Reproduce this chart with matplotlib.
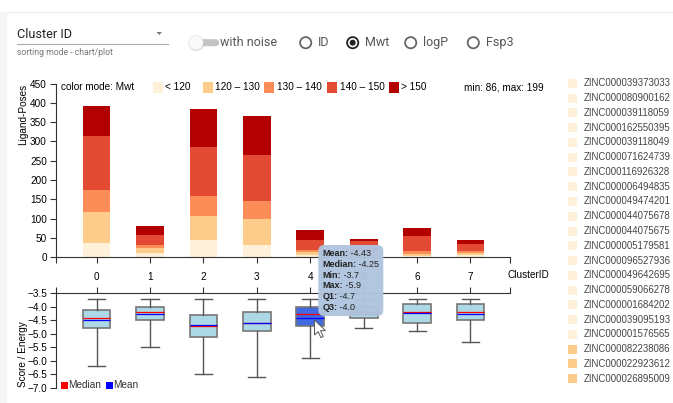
import numpy as np
import matplotlib.pyplot as plt
from matplotlib.patches import Rectangle, FancyBboxPatch, Circle, Polygon
from matplotlib.ticker import FuncFormatter

plt.rcParams['font.family'] = ['Liberation Sans', 'DejaVu Sans']

# ---- data ----
clusters = [0, 1, 2, 3, 4, 5, 6, 7]
mwt_bins = ['< 120', '120 \u2013 130', '130 \u2013 140', '140 \u2013 150', '> 150']
bin_colors = ['#fef0d9', '#fdcc8a', '#fc8d59', '#e34a33', '#b30000']

# ligand poses per cluster, one list per Mwt bin
n_lt120 = [36, 11, 45, 33, 6, 4, 4, 6]
n_120_130 = [80, 13, 61, 65, 8, 6, 5, 6]
n_130_140 = [59, 8, 52, 48, 6, 6, 8, 5]
n_140_150 = [140, 26, 128, 119, 26, 25, 38, 18]
n_gt150 = [78, 22, 99, 102, 24, 7, 21, 10]

# score / energy box statistics per cluster
score_hi = [-3.7, -3.7, -3.7, -3.7, -3.7, -3.7, -3.7, -3.7]
score_q3 = [-4.1, -4.0, -4.3, -4.2, -4.0, -4.0, -3.9, -3.9]
score_med = [-4.4, -4.2, -4.7, -4.6, -4.25, -4.2, -4.2, -4.2]
score_mean = [-4.47, -4.27, -4.68, -4.59, -4.43, -4.25, -4.23, -4.25]
score_q1 = [-4.8, -4.5, -5.1, -4.9, -4.7, -4.4, -4.6, -4.5]
score_lo = [-6.2, -5.5, -6.5, -6.6, -5.9, -4.8, -4.9, -5.3]
selected = 4

mwt_min, mwt_max = 86, 199

zinc_ids = ['ZINC000039373033', 'ZINC000080900162', 'ZINC000039118059',
            'ZINC000162550395', 'ZINC000039118049', 'ZINC000071624739',
            'ZINC000116926328', 'ZINC000006494835', 'ZINC000049474201',
            'ZINC000044075678', 'ZINC000044075675', 'ZINC000005179581',
            'ZINC000096527936', 'ZINC000049642695', 'ZINC000059066278',
            'ZINC000001684202', 'ZINC000039095193', 'ZINC000001576565',
            'ZINC000082238086', 'ZINC000022923612', 'ZINC000026895009']
zinc_bin = [0] * 18 + [1] * 3

W, H = 673, 403
fig = plt.figure(figsize=(W / 100, H / 100), dpi=100)
fig.patch.set_facecolor('white')

def fx(x):
    return x / W

def fy(y):
    return 1 - y / H

axis_col = '#333333'
fs = 7.2

# ---- stacked bar chart ----
ax1 = fig.add_axes([fx(56), fy(257.3), fx(510 - 56), (257.3 - 83.5) / H])
bottom = np.zeros(len(clusters))
for vals, col in zip([n_lt120, n_120_130, n_130_140, n_140_150, n_gt150], bin_colors):
    ax1.bar(clusters, vals, width=0.52, bottom=bottom, color=col, linewidth=0)
    bottom += np.array(vals)

ax1.set_xlim(-0.76, 7.74)
ax1.set_ylim(0, 450)
ax1.set_yticks(np.arange(0, 451, 50))
ax1.set_xticks(clusters)
ax1.set_xticks([-0.76, 7.74], minor=True)
ax1.tick_params(axis='x', which='both', direction='out', length=4.5, width=0.8,
                color=axis_col, labelsize=fs, pad=6)
ax1.tick_params(axis='y', direction='out', length=4.5, width=0.8, color=axis_col,
                labelsize=fs, pad=2)
for s in ['top', 'right']:
    ax1.spines[s].set_visible(False)
for s in ['left', 'bottom']:
    ax1.spines[s].set_color(axis_col)
    ax1.spines[s].set_linewidth(0.8)
ax1.patch.set_alpha(0)

# ---- box plot ----
ax2 = fig.add_axes([fx(56), fy(388), fx(510 - 56), (388 - 293.3) / H])
stats = []
for i in range(len(clusters)):
    stats.append(dict(med=score_med[i], q1=score_q1[i], q3=score_q3[i],
                      whislo=score_lo[i], whishi=score_hi[i],
                      mean=score_mean[i], fliers=[]))
bp = ax2.bxp(stats, positions=clusters, widths=0.52, capwidths=0.32,
             patch_artist=True, showmeans=True, meanline=True, showfliers=False,
             boxprops=dict(edgecolor='#777777', linewidth=1.2),
             whiskerprops=dict(color='#555555', linewidth=1),
             capprops=dict(color='#555555', linewidth=1),
             medianprops=dict(color='red', linewidth=0.9),
             meanprops=dict(color='blue', linewidth=0.9, linestyle='-'))
for i, box in enumerate(bp['boxes']):
    box.set_facecolor('#4169e1' if i == selected else '#add8e6')

ax2.set_xlim(-0.76, 7.74)
ax2.set_ylim(-7.0, -3.5)
ax2.set_yticks(np.arange(-7.0, -3.49, 0.5))
ax2.yaxis.set_major_formatter(FuncFormatter(lambda v, p: f'{v:.1f}'.replace('-', '\u2212')))
ax2.xaxis.tick_top()
ax2.set_xticks(clusters)
ax2.set_xticks([-0.76, 7.74], minor=True)
ax2.tick_params(axis='x', which='both', direction='out', length=4.5, width=0.8,
                color=axis_col, labeltop=False, labelbottom=False)
ax2.tick_params(axis='y', direction='out', length=4.5, width=0.8, color=axis_col,
                labelsize=fs, pad=2)
for s in ['bottom', 'right']:
    ax2.spines[s].set_visible(False)
for s in ['left', 'top']:
    ax2.spines[s].set_color(axis_col)
    ax2.spines[s].set_linewidth(0.8)
ax2.patch.set_alpha(0)

# ---- overlay in pixel coordinates ----
ov = fig.add_axes([0, 0, 1, 1])
ov.set_xlim(0, W)
ov.set_ylim(H, 0)
ov.axis('off')

# card edges
ov.add_patch(Rectangle((0, 12), 7, H - 12, color='#f5f5f5', lw=0))
ov.plot([7, W], [12, 12], color='#ececec', lw=0.8)

# axis labels
ov.text(23, 84, 'Ligand-Poses', rotation=90, ha='center', va='top', fontsize=fs)
ov.text(23, 387, 'Score / Energy', rotation=90, ha='center', va='bottom', fontsize=fs)
ov.text(508, 275, 'ClusterID', ha='left', va='center', fontsize=fs)

# colour legend of the bar chart
ov.text(60.7, 87.5, 'color mode: Mwt', ha='left', va='center', fontsize=fs)
leg_x = [152.9, 202.5, 264.3, 327.0, 388.6]
for x, lab, col in zip(leg_x, mwt_bins, bin_colors):
    ov.add_patch(Rectangle((x, 82), 10, 11, color=col, lw=0))
    ov.text(x + 12.5, 87.5, lab, ha='left', va='center', fontsize=fs)
ov.text(464.3, 87.5, f'min: {mwt_min}, max: {mwt_max}', ha='left', va='center', fontsize=fs)

# median / mean legend
ov.add_patch(Rectangle((60.5, 381.5), 7, 7, color='red', lw=0))
ov.text(68.6, 385, 'Median', ha='left', va='center', fontsize=fs, color='#333333')
ov.add_patch(Rectangle((105.5, 381.5), 7, 7, color='blue', lw=0))
ov.text(113.6, 385, 'Mean', ha='left', va='center', fontsize=fs, color='#333333')

# right-hand list of ligands
for i, (zid, b) in enumerate(zip(zinc_ids, zinc_bin)):
    y = 83.3 + 14.77 * i
    ov.add_patch(Rectangle((568.3, y - 4.5), 9, 9, color=bin_colors[b], lw=0))
    ov.text(583.3, y, zid, ha='left', va='center', fontsize=6.95, color='#444444')

# top controls
ui = ['Roboto', 'DejaVu Sans']
ov.text(17, 35, 'Cluster ID', ha='left', va='center', fontsize=9.2, family=ui, color='#222222')
ov.plot([17, 168], [44, 44], color='#aaaaaa', lw=0.8)
ov.add_patch(Polygon([(156.5, 32), (162, 32), (159.25, 35)], closed=True,
                     color='#777777', lw=0))
ov.text(17, 52.5, 'sorting mode - chart/plot', ha='left', va='center', fontsize=6.2,
        family=ui, color='#777777')

ov.add_patch(FancyBboxPatch((192, 39.2), 27, 7, boxstyle='round,pad=0,rounding_size=3.5',
                            color='#c4c4c4', lw=0))
ov.add_patch(Circle((196.5, 43.6), 7.6, color='#000000', alpha=0.12, lw=0))
ov.add_patch(Circle((196, 42.7), 7.2, facecolor='#fafafa', edgecolor='#e0e0e0', lw=0.5))
ov.text(220.5, 42.7, 'with noise', ha='left', va='center', fontsize=9.0, family=ui,
        color='#555555')

radio_x = [305.7, 352.7, 410.7, 473.3]
radio_lab = ['ID', 'Mwt', 'logP', 'Fsp3']
radio_sel = 'Mwt'
for x, lab in zip(radio_x, radio_lab):
    ring = '#222222' if lab == radio_sel else '#666666'
    ov.add_patch(Circle((x, 42.7), 5.6, facecolor='none', edgecolor=ring, lw=1.3))
    if lab == radio_sel:
        ov.add_patch(Circle((x, 42.7), 3.0, color='#222222', lw=0))
    ov.text(x + 12.6, 42.7, lab, ha='left', va='center', fontsize=9.0, family=ui,
            color='#555555')

# tooltip for the selected box
ov.add_patch(FancyBboxPatch((318.3, 245), 65, 71, boxstyle='round,pad=0,rounding_size=6',
                            facecolor='#b0c4de', edgecolor='none', alpha=0.97))
tip_rows = [('Mean:', score_mean[selected]), ('Median:', score_med[selected]),
            ('Min:', score_hi[selected]), ('Max:', score_lo[selected]),
            ('Q1:', score_q1[selected]), ('Q3:', score_q3[selected])]
for k, (lab, val) in enumerate(tip_rows):
    t = ov.text(322.3, 254 + 10.6 * k, lab, ha='left', va='center', fontsize=6.5,
                fontweight='bold', color='#222222')
    ov.annotate(' ' + str(val), xy=(1, 0), xycoords=t, ha='left', va='bottom',
                fontsize=6.5, color='#222222')

# mouse cursor
tip = np.array([314.5, 320.0])
shape = np.array([(0, 0), (0, 15), (3.6, 11.6), (6.4, 17.6), (8.8, 16.5),
                  (6.0, 10.6), (11.0, 10.6)])
ov.add_patch(Polygon(tip + shape, closed=True, facecolor='white', edgecolor='#555555',
                     lw=0.7))

fig.savefig('out.png', dpi=100)
